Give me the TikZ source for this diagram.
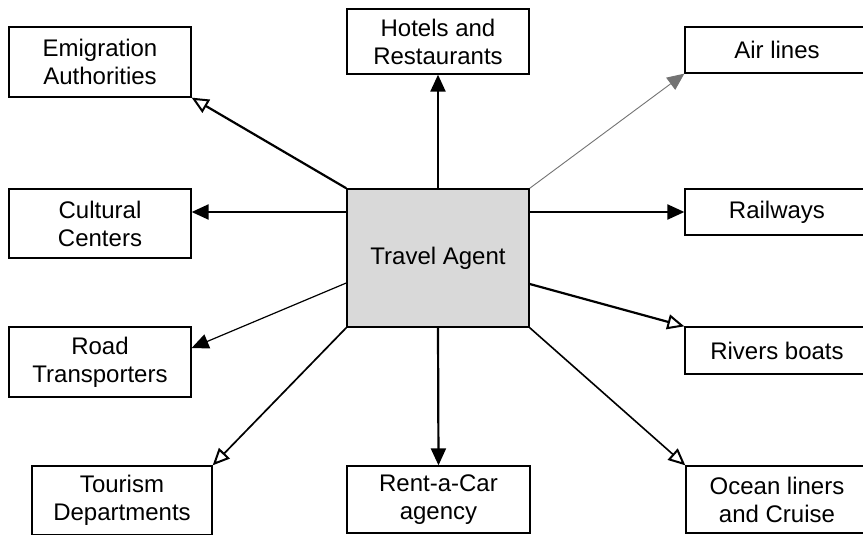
\documentclass[tikz,border=0pt]{standalone}
\usepackage{fontspec}
\setmainfont{Liberation Sans}
\usetikzlibrary{arrows.meta,calc}

\tikzset{
  box/.style={draw=black, line width=1.3pt, fill=white, align=center,
    inner sep=0pt, font=\fontsize{24}{28}\selectfont},
  hub/.style={box, fill=black!15, line width=1.5pt},
  link/.style={line width=2.2pt, -{Triangle[length=17pt,width=15pt]}},
  openlink/.style={line width=2.2pt, -{Triangle[open,length=17pt,width=15pt,line width=2pt]}},
  finelink/.style={line width=1.2pt, -{Triangle[length=17pt,width=15pt]}},
}

\begin{document}
\begin{tikzpicture}[x=1pt,y=1pt]
  \useasboundingbox (0,0) rectangle (863,-535);
  \fill[white] (0,0) rectangle (863,-535);

  % central agent
  \node[hub, minimum width=182pt, minimum height=138pt] (agent) at (438,-258) {Travel Agent};

  % left column
  \node[box, minimum width=182pt, minimum height=70pt] (emig) at (100,-62) {Emigration\\Authorities};
  \node[box, minimum width=182pt, minimum height=69pt] (cult) at (100,-223.5) {Cultural\\Centers};
  \node[box, minimum width=182pt, minimum height=70pt] (road) at (100,-362) {Road\\Transporters};
  \node[box, minimum width=180pt, minimum height=69pt] (tour) at (122,-500.5) {Tourism\\Departments};

  % middle column
  \node[box, minimum width=182pt, minimum height=65pt] (hotel) at (438,-41.5) {Hotels and\\Restaurants};
  \node[box, minimum width=183pt, minimum height=67pt] (rent) at (438.5,-499.5) {Rent-a-Car\\agency};

  % right column
  \node[box, minimum width=184pt, minimum height=46pt] (air) at (777,-50) {Air lines};
  \node[box, minimum width=184pt, minimum height=46pt] (rail) at (777,-212) {Railways};
  \node[box, minimum width=184pt, minimum height=47pt] (river) at (777,-350.5) {Rivers boats};
  \node[box, minimum width=182pt, minimum height=67pt] (ocean) at (777,-499.5) {Ocean liners\\and Cruise};

  % connectors
  \coordinate (roadout) at ($(agent.west)+(0,-25)$);
  \coordinate (roadin) at ($(road.east)+(0,14)$);
  \coordinate (riverout) at ($(agent.east)+(0,-26)$);

  \draw[openlink] (agent.north west) -- (emig.south east);
  \draw[link] (agent.north) -- (hotel.south);
  \draw[finelink, line width=0.9pt, draw=black!55] (agent.north east) -- (air.south west);
  \draw[link] (agent.west |- rail) -- (cult.east |- rail);
  \draw[link] (agent.east |- rail) -- (rail.west);
  \draw[finelink] (roadout) -- (roadin);
  \draw[openlink] (riverout) -- (river.north west);
  \draw[openlink, line width=1.7pt] (agent.south west) -- (tour.north east);
  \draw[link] (agent.south) -- (rent.north);
  \draw[openlink, line width=1.6pt] (agent.south east) -- (ocean.north west);
\end{tikzpicture}
\end{document}
